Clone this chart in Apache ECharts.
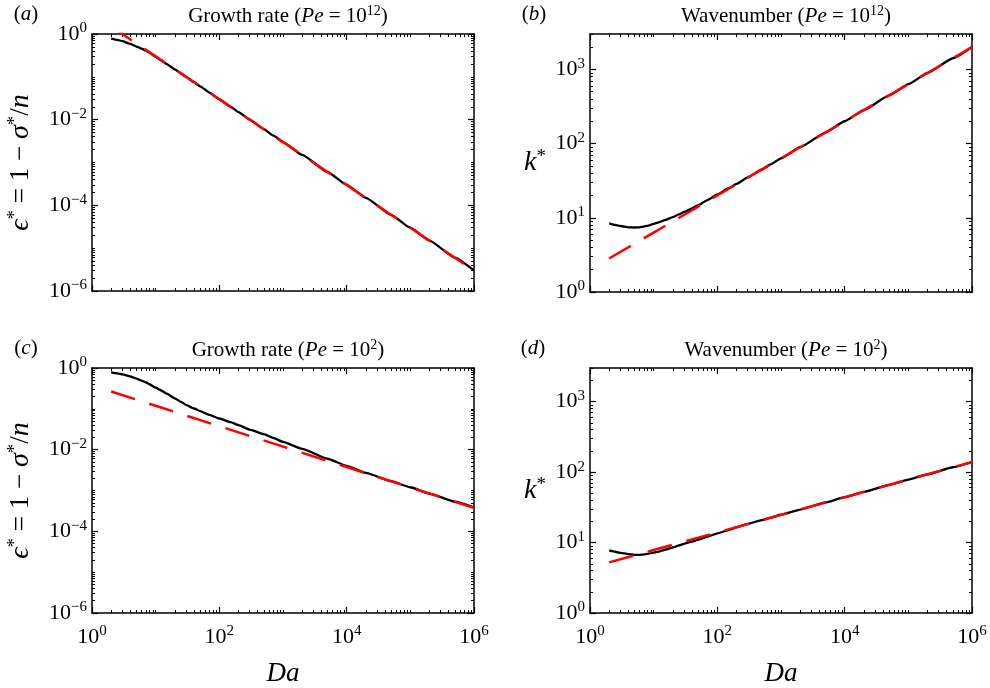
<!DOCTYPE html>
<html>
<head>
<meta charset="utf-8">
<script src="https://cdn.jsdelivr.net/npm/echarts@6/dist/echarts.min.js"></script>
<style>
html,body{margin:0;padding:0;background:#fff;}
#chart{width:990px;height:688px;}
</style>
</head>
<body>
<div id="chart"></div>
<script>
// ---- Data ----
const DA = [2, 2.5, 3, 4, 5, 6, 7, 8, 10, 12, 15, 20, 25, 30, 40, 50, 70, 100, 150, 200, 300, 500, 700,
            1000, 2000, 5000, 1e4, 2e4, 5e4, 1e5, 2e5, 5e5, 1e6];
// (a) growth rate, Pe = 1e12 (black, solid)
const EPS_A = [0.78, 0.73, 0.68, 0.585, 0.51, 0.455, 0.41, 0.365, 0.295, 0.247, 0.198, 0.149, 0.12, 0.1, 0.075, 0.06, 0.0429, 0.03, 0.02, 0.015, 0.01, 0.006, 0.00429,
               0.003, 0.0015, 6e-4, 3e-4, 1.5e-4, 6e-5, 3e-5, 1.5e-5, 6e-6, 3e-6];
// (b) wavenumber, Pe = 1e12
const K_B = [8.4, 8.0, 7.75, 7.45, 7.4, 7.45, 7.6, 7.8, 8.3, 8.7, 9.3, 10.2, 11.1, 12.0, 13.4, 14.8, 17.3, 20.6, 25.0, 28.6, 35.0, 44.9, 53.0,
             63.4, 89.5, 141, 200, 283, 447, 632, 894, 1414, 2000];
// (c) growth rate, Pe = 1e2
const EPS_C = [0.78, 0.74, 0.70, 0.62, 0.55, 0.49, 0.445, 0.40, 0.33, 0.285, 0.235, 0.18, 0.148, 0.125, 0.102, 0.088, 0.071, 0.058, 0.047, 0.04, 0.031, 0.024, 0.0195,
               0.0155, 0.0105, 0.0060, 0.0040, 0.0027, 0.00169, 0.0012, 0.00084, 0.00053, 0.00038];
// (d) wavenumber, Pe = 1e2
const K_D = [7.75, 7.4, 7.15, 6.85, 6.7, 6.7, 6.75, 6.9, 7.2, 7.45, 7.9, 8.5, 9.1, 9.6, 10.3, 11.0, 12.1, 13.5, 15.0, 16.4, 18.4, 20.8, 22.6,
             24.8, 29.4, 37.0, 44, 52.3, 65.8, 78.3, 93.0, 117, 139];

// asymptotes (red, dashed)
const DA_ASYM = [2, 10, 100, 1000, 1e4, 1e5, 1e6];
const ASYM_A = [1.5, 0.3, 0.03, 3e-3, 3e-4, 3e-5, 3e-6];
const ASYM_B = [2.83, 6.32, 20, 63.2, 200, 632, 2000];
const ASYM_C = [0.265, 0.1186, 0.0375, 0.01186, 3.75e-3, 1.186e-3, 3.75e-4];
const ASYM_D = [5.23, 7.82, 13.9, 24.7, 44, 78.2, 139];

// tick labels (powers of ten)
const X_LABELS = [1, 100, 1e4, 1e6];
const Y_EPS_LABELS = [1, 1e-2, 1e-4, 1e-6];
const Y_K_LABELS = [1, 10, 100, 1000];

// ---- helpers ----
function minorList(lo, hi, majors) {
  const out = [];
  for (let e = Math.floor(Math.log10(lo)); e <= Math.ceil(Math.log10(hi)); e++) {
    for (let m = 1; m <= 9; m++) {
      const v = +(m * Math.pow(10, e)).toPrecision(6);
      if (v < lo * 0.9999 || v > hi * 1.0001) continue;
      if (majors.some(t => Math.abs(Math.log10(t) - Math.log10(v)) < 1e-6)) continue;
      out.push(v);
    }
  }
  return out;
}
const FONT = 'Liberation Serif';
const rich = {
  b: {fontFamily: FONT, fontSize: 22, color: '#000'},
  s: {fontFamily: FONT, fontSize: 15, color: '#000', padding: [0, 0, 11, 0]}
};
function powFmt(v) {
  const e = Math.round(Math.log10(v));
  return '{b|10}{s|' + (e < 0 ? '\u2212' + (-e) : e) + '}';
}

const grids = [
  {left: 92, top: 34, width: 382, height: 257},
  {left: 590, top: 34, width: 382, height: 258},
  {left: 92, top: 368, width: 382, height: 257},
  {left: 590, top: 368, width: 382, height: 258}
];

const xAxes = [], yAxes = [], series = [];
const panels = [
  {ymin: 1e-6, ymax: 1, ylab: Y_EPS_LABELS, black: EPS_A, red: ASYM_A, showX: false, kind: 'eps'},
  {ymin: 1, ymax: 3000, ylab: Y_K_LABELS, black: K_B, red: ASYM_B, showX: false, kind: 'k'},
  {ymin: 1e-6, ymax: 1, ylab: Y_EPS_LABELS, black: EPS_C, red: ASYM_C, showX: true, kind: 'eps'},
  {ymin: 1, ymax: 3000, ylab: Y_K_LABELS, black: K_D, red: ASYM_D, showX: true, kind: 'k'}
];

panels.forEach((p, gi) => {
  const xMinor = minorList(1, 1e6, X_LABELS);
  const yMinor = minorList(p.ymin, p.ymax, p.ylab);
  const baseX = {type: 'log', logBase: 10, min: 1, max: 1e6, gridIndex: gi, splitLine: {show: false}};
  const baseY = {type: 'log', logBase: 10, min: p.ymin, max: p.ymax, gridIndex: gi, splitLine: {show: false}};
  const line = {show: true, onZero: false, lineStyle: {color: '#000', width: 1.5}};
  const noLine = {show: false};
  const xi = xAxes.length, yi = yAxes.length;
  xAxes.push(Object.assign({}, baseX, {
    position: 'bottom', axisLine: line,
    axisTick: {inside: true, length: 6, customValues: X_LABELS, lineStyle: {color: '#000', width: 1.2}},
    axisLabel: {show: p.showX, customValues: X_LABELS, formatter: powFmt, rich: rich, margin: 11},
    name: p.showX ? 'Da' : '', nameLocation: 'middle', nameGap: 47,
    nameTextStyle: {fontFamily: FONT, fontStyle: 'italic', fontSize: 27, color: '#000'}
  }));
  xAxes.push(Object.assign({}, baseX, {
    position: 'bottom', axisLine: noLine,
    axisTick: {inside: true, length: 3, customValues: xMinor, lineStyle: {color: '#000', width: 1}},
    axisLabel: {show: false}
  }));
  xAxes.push(Object.assign({}, baseX, {
    position: 'top', axisLine: line,
    axisTick: {inside: true, length: 6, customValues: X_LABELS, lineStyle: {color: '#000', width: 1.2}},
    axisLabel: {show: false}
  }));
  xAxes.push(Object.assign({}, baseX, {
    position: 'top', axisLine: noLine,
    axisTick: {inside: true, length: 3, customValues: xMinor, lineStyle: {color: '#000', width: 1}},
    axisLabel: {show: false}
  }));
  const yName = p.kind === 'eps'
    ? '{i|\u03F5}{s|*}{t| = 1 \u2212 }{i|\u03C3}{s|*}{t|/}{i|n}'
    : '{i|k}{s|*}';
  yAxes.push(Object.assign({}, baseY, {
    position: 'left', axisLine: line,
    axisTick: {inside: true, length: 6, customValues: p.ylab, lineStyle: {color: '#000', width: 1.2}},
    axisLabel: {customValues: p.ylab, formatter: powFmt, rich: rich, margin: 5},
    name: yName, nameLocation: 'middle',
    nameGap: p.kind === 'eps' ? 56 : 44,
    nameRotate: p.kind === 'eps' ? 90 : 0,
    nameTextStyle: {fontFamily: FONT, fontSize: 27, color: '#000',
      rich: {t: {fontFamily: FONT, fontSize: 27, color: '#000'},
             i: {fontFamily: FONT, fontStyle: 'italic', fontSize: 28, color: '#000'},
             s: {fontFamily: FONT, fontSize: 19, color: '#000', padding: [0, 0, 11, 0]}}}
  }));
  yAxes.push(Object.assign({}, baseY, {
    position: 'left', axisLine: noLine,
    axisTick: {inside: true, length: 3, customValues: yMinor, lineStyle: {color: '#000', width: 1}},
    axisLabel: {show: false}
  }));
  yAxes.push(Object.assign({}, baseY, {
    position: 'right', axisLine: line,
    axisTick: {inside: true, length: 6, customValues: p.ylab, lineStyle: {color: '#000', width: 1.2}},
    axisLabel: {show: false}
  }));
  yAxes.push(Object.assign({}, baseY, {
    position: 'right', axisLine: noLine,
    axisTick: {inside: true, length: 3, customValues: yMinor, lineStyle: {color: '#000', width: 1}},
    axisLabel: {show: false}
  }));
  series.push({
    type: 'line', xAxisIndex: xi, yAxisIndex: yi, showSymbol: false, symbol: 'none',
    smooth: 0.15, smoothMonotone: 'x', clip: true, z: 2,
    lineStyle: {color: '#000', width: 2.3},
    data: DA.map((d, i) => [d, p.black[i]])
  });
  series.push({
    type: 'line', xAxisIndex: xi, yAxisIndex: yi, showSymbol: false, symbol: 'none',
    clip: true, z: 3,
    lineStyle: {color: '#ff0000', width: 2.5, type: [25, 15]},
    data: DA_ASYM.map((d, i) => [d, p.red[i]])
  });
});

const titleRich = {
  t: {fontFamily: FONT, fontSize: 21, color: '#000'},
  i: {fontFamily: FONT, fontSize: 21, fontStyle: 'italic', color: '#000'},
  s: {fontFamily: FONT, fontSize: 14, color: '#000', padding: [0, 0, 10, 0]}
};
function mkTitle(txt, left, top) {
  return {text: txt, left: left, top: top, textAlign: 'center',
    textStyle: {fontFamily: FONT, fontSize: 21, fontWeight: 'normal', color: '#000', rich: titleRich}};
}
const titles = [
  mkTitle('{t|Growth rate (}{i|Pe}{t| = 10}{s|12}{t|)}', 283, -1),
  mkTitle('{t|Wavenumber (}{i|Pe}{t| = 10}{s|12}{t|)}', 781, -1),
  mkTitle('{t|Growth rate (}{i|Pe}{t| = 10}{s|2}{t|)}', 283, 333),
  mkTitle('{t|Wavenumber (}{i|Pe}{t| = 10}{s|2}{t|)}', 781, 333),
  mkTitle('{t|(}{i|a}{t|)}', 21, -1),
  mkTitle('{t|(}{i|b}{t|)}', 529, -1),
  mkTitle('{t|(}{i|c}{t|)}', 21, 333),
  mkTitle('{t|(}{i|d}{t|)}', 528, 333)
];

const chart = echarts.init(document.getElementById('chart'), null, {renderer: 'canvas'});
chart.setOption({
  animation: false,
  backgroundColor: '#fff',
  title: titles,
  grid: grids,
  xAxis: xAxes,
  yAxis: yAxes,
  series: series
});
</script>
</body>
</html>
